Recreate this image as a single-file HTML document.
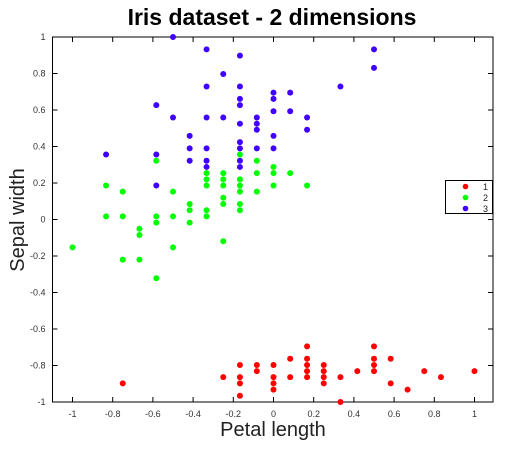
<!DOCTYPE html>
<html><head><meta charset="utf-8"><style>
body{margin:0;background:#fff;}
svg{display:block;font-family:"Liberation Sans",sans-serif;}
</style></head><body>
<svg id="chart" width="530" height="450">
<text x="272" y="25" text-anchor="middle" font-size="23" font-weight="bold">Iris dataset - 2 dimensions</text>
<text x="273" y="436" text-anchor="middle" font-size="20" fill="#222">Petal length</text>
<text transform="translate(24,220) rotate(-90)" text-anchor="middle" font-size="20" fill="#222">Sepal width</text>
<g id="axes"></g>
<g id="marks"></g>
<g id="legend"></g>
</svg>
<script>
const xTicks=[-1,-0.8,-0.6,-0.4,-0.2,0,0.2,0.4,0.6,0.8,1];
const yTicks=[-1,-0.8,-0.6,-0.4,-0.2,0,0.2,0.4,0.6,0.8,1];
const seriesNames=["1","2","3"];
const s1x=[-0.75,-0.25,-0.167,-0.167,-0.167,-0.167,-0.083,-0.083,0,0,0,0,0.083,0.083,0.167,0.167,0.167,0.167,0.167,0.25,0.25,0.25,0.25,0.333,0.333,0.417,0.5,0.5,0.5,0.5,0.583,0.583,0.667,0.75,0.833,1];
const s1y=[-0.898,-0.864,-0.797,-0.864,-0.898,-0.966,-0.797,-0.831,-0.797,-0.864,-0.898,-0.932,-0.763,-0.864,-0.695,-0.763,-0.797,-0.831,-0.864,-0.797,-0.831,-0.864,-0.898,-0.864,-1,-0.831,-0.695,-0.763,-0.797,-0.831,-0.763,-0.898,-0.932,-0.831,-0.864,-0.831];
const s2x=[-1,-0.833,-0.833,-0.75,-0.75,-0.75,-0.667,-0.667,-0.667,-0.583,-0.583,-0.583,-0.583,-0.5,-0.5,-0.5,-0.417,-0.417,-0.417,-0.333,-0.333,-0.333,-0.333,-0.333,-0.25,-0.25,-0.25,-0.25,-0.25,-0.25,-0.167,-0.167,-0.167,-0.167,-0.167,-0.167,-0.083,-0.083,-0.083,0,0,0,0.083,0.167];
const s2y=[-0.153,0.186,0.017,0.153,0.017,-0.22,-0.051,-0.085,-0.22,0.322,0.017,-0.017,-0.322,0.153,0.017,-0.153,0.085,0.051,-0.017,0.254,0.22,0.186,0.051,0.017,0.254,0.22,0.186,0.119,0.085,-0.119,0.356,0.22,0.186,0.153,0.085,0.051,0.322,0.254,0.153,0.288,0.254,0.186,0.254,0.186];
const s3x=[-0.833,-0.583,-0.583,-0.583,-0.5,-0.5,-0.417,-0.417,-0.417,-0.333,-0.333,-0.333,-0.333,-0.333,-0.333,-0.25,-0.25,-0.167,-0.167,-0.167,-0.167,-0.167,-0.167,-0.167,-0.167,-0.167,-0.083,-0.083,-0.083,-0.083,0,0,0,0,0,0.083,0.083,0.167,0.167,0.333,0.5,0.5];
const s3y=[0.356,0.627,0.356,0.186,1,0.559,0.458,0.39,0.322,0.932,0.729,0.559,0.39,0.322,0.288,0.797,0.559,0.898,0.729,0.661,0.627,0.525,0.424,0.39,0.322,0.288,0.559,0.525,0.492,0.39,0.695,0.661,0.593,0.458,0.39,0.695,0.593,0.559,0.492,0.729,0.932,0.831];
const NS="http://www.w3.org/2000/svg";
const L=52.5,R=493,T=37,B=402;
const xS=v=>273.5+v*201;
const yS=v=>T+(1-v)/2*(B-T);
function mk(tag,attrs,parent){const e=document.createElementNS(NS,tag);for(const k in attrs)e.setAttribute(k,attrs[k]);parent.appendChild(e);return e;}
const axes=document.getElementById('axes');
const frame=mk('rect',{x:L,y:T,width:R-L,height:B-T,fill:'none',stroke:'#000','stroke-width':1},axes);


xTicks.forEach(v=>{const x=xS(v);
 const t1=mk('line',{x1:x,x2:x,y1:B,y2:B-5,stroke:'#000'},axes);
 
 
 const t2=mk('line',{x1:x,x2:x,y1:T,y2:T+5,stroke:'#000'},axes);
 
 
 const lb=mk('text',{x:x,y:B+15,'text-anchor':'middle','font-size':9,fill:'#333'},axes);
 lb.textContent=String(v);
 
 
});
yTicks.forEach(v=>{const y=yS(v);
 const t1=mk('line',{x1:L,x2:L+5,y1:y,y2:y,stroke:'#000'},axes);
 
 
 const t2=mk('line',{x1:R,x2:R-5,y1:y,y2:y,stroke:'#000'},axes);
 
 
 const lb=mk('text',{x:L-7,y:y+3,'text-anchor':'end','font-size':9,fill:'#333'},axes);
 lb.textContent=String(v);
 
 
});
const marks=document.getElementById('marks');
const colors=['#ff0000','#00ff00','#4000ff'];
[[s1x,s1y],[s2x,s2y],[s3x,s3y]].forEach((s,i)=>{
 s[0].forEach((xv,j)=>{
  const c=mk('circle',{cx:xS(xv),cy:yS(s[1][j]),r:3,fill:colors[i]},marks);
  
  
 });
});
const lg=document.getElementById('legend');
const box=mk('rect',{x:445.5,y:180.5,width:47,height:33,fill:'#fff',stroke:'#000'},lg);


seriesNames.forEach((n,i)=>{
 const y=186.5+i*11;
 const c=mk('circle',{cx:465.5,cy:y,r:2.8,fill:colors[i]},lg);
 
 
 const t=mk('text',{x:483,y:y+3.5,'font-size':9,fill:'#222'},lg);
 t.textContent=n;
 
 
});
</script>
</body></html>
